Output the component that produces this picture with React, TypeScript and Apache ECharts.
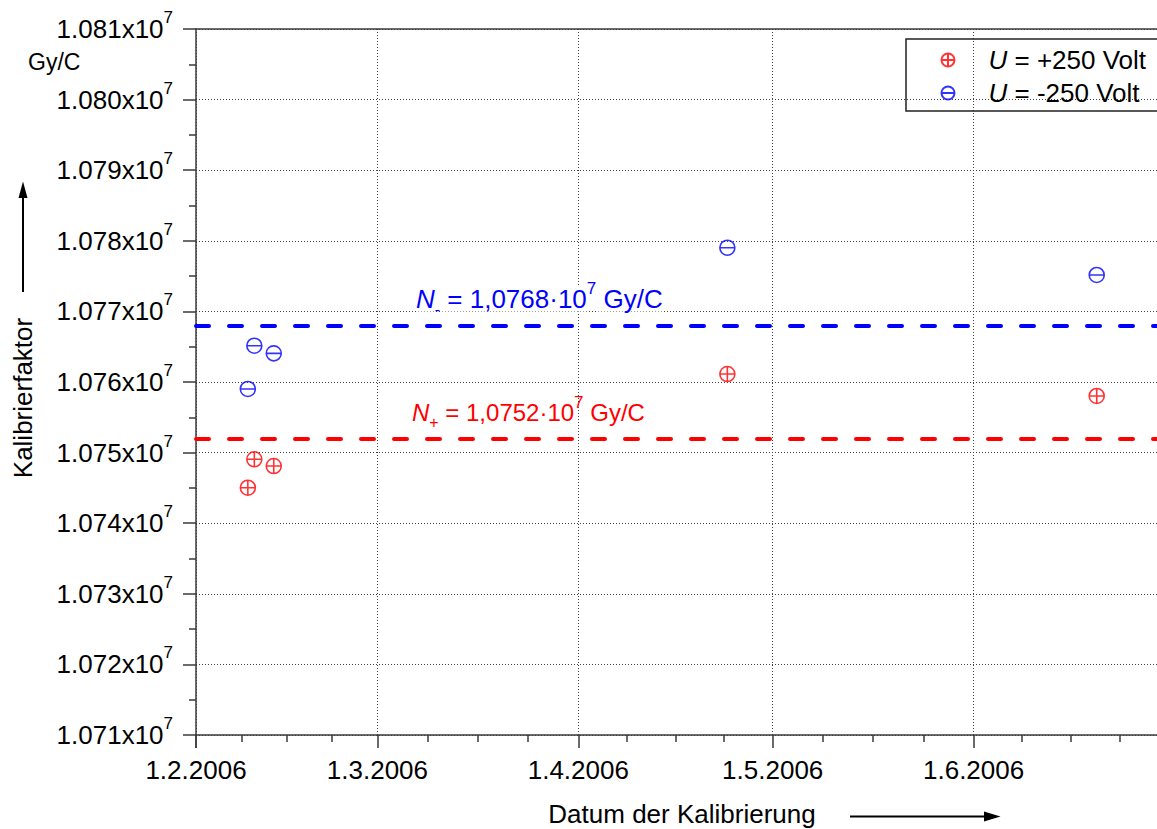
import React, { useEffect, useRef } from 'react';
import * as echarts from 'echarts';

const FONT = "'Liberation Sans', Arial, Helvetica, sans-serif";

// ---- data ----
const measurementDates = ['2006-02-09', '2006-02-10', '2006-02-13', '2006-04-24', '2006-06-20'];
const plusValues = [10745030, 10749050, 10748100, 10761130, 10758020];
const minusValues = [10759010, 10765140, 10764060, 10779020, 10775160];
const seriesNames = ['U = +250 Volt', 'U = -250 Volt'];
const meanPlus = 10752000;
const meanMinus = 10768000;
const xRange = ['2006-02-01', '2006-07-01'];
const yMin = 10710000;
const yMax = 10810000;
const yInterval = 10000;
const yExponent = 7;
const unitLabel = 'Gy/C';
const yTitle = 'Kalibrierfaktor';
const xTitle = 'Datum der Kalibrierung';

const DAY = 24 * 3600 * 1000;
const toTime = (s: string) => {
  const [y, m, d] = s.split('-').map(Number);
  return new Date(y, m - 1, d).getTime();
};
const fmtDate = (v: number) => {
  const d = new Date(v);
  return `${d.getDate()}.${d.getMonth() + 1}.${d.getFullYear()}`;
};
const fmtMean = (v: number) => (v / Math.pow(10, yExponent)).toFixed(4).replace('.', ',');

const PLUS_SYMBOL = 'path://M10,0A10,10,0,1,1,-10,0A10,10,0,1,1,10,0ZM-10,0L10,0M0,-10L0,10';
const MINUS_SYMBOL = 'path://M10,0A10,10,0,1,1,-10,0A10,10,0,1,1,10,0ZM-10,0L10,0';

const RED = '#ff0000';
const BLUE = '#0000ff';
const AXIS = '#3a3a3a';

const rt = (o: any) => ({ fontFamily: FONT, ...o });

export default function App() {
  const ref = useRef<HTMLDivElement>(null);
  useEffect(() => {
    if (!ref.current) return;
    const chart = echarts.init(ref.current, undefined, { renderer: 'svg' });
    const xMin = toTime(xRange[0]);
    const xMax = toTime(xRange[1]);

    const staticGraphic: any[] = [
      {
        type: 'text', x: 28, y: 62,
        style: { text: unitLabel, fontFamily: FONT, fontSize: 23, fill: '#000', align: 'left', verticalAlign: 'middle' },
      },
      {
        type: 'text', x: 23, y: 398, rotation: Math.PI / 2,
        style: { text: yTitle, fontFamily: FONT, fontSize: 26, fill: '#000', align: 'center', verticalAlign: 'middle' },
      },
      { type: 'line', shape: { x1: 23, y1: 292, x2: 23, y2: 195 }, style: { stroke: '#000', lineWidth: 2 } },
      { type: 'polygon', shape: { points: [[23, 181.5], [18.5, 198], [27.5, 198]] }, style: { fill: '#000' } },
      {
        type: 'text', x: 682, y: 814,
        style: { text: xTitle, fontFamily: FONT, fontSize: 26, fill: '#000', align: 'center', verticalAlign: 'middle' },
      },
      { type: 'line', shape: { x1: 850, y1: 816.5, x2: 986, y2: 816.5 }, style: { stroke: '#000', lineWidth: 2 } },
      { type: 'polygon', shape: { points: [[1000.5, 816.5], [984, 811.5], [984, 821.5]] }, style: { fill: '#000' } },
    ];

    const axisLineStyle = { color: AXIS, width: 1.5 };
    const option: any = {
      animation: false,
      textStyle: { fontFamily: FONT },
      grid: { left: 196, width: 972, top: 29, height: 706, containLabel: false, outerBoundsMode: 'none' },
      xAxis: [
        {
          type: 'time', min: xMin, max: xMax, splitNumber: 5,
          minInterval: 28 * DAY, maxInterval: 31 * DAY,
          axisLine: { show: true, onZero: false, lineStyle: axisLineStyle },
          axisTick: { show: true, length: 13, lineStyle: axisLineStyle },
          minorTick: { show: true, splitNumber: 4, length: 7, lineStyle: axisLineStyle },
          splitLine: { show: true, lineStyle: { color: '#444', type: [1, 2], width: 1 } },
          minorSplitLine: { show: false },
          axisLabel: {
            show: true, margin: 22, fontSize: 26, color: '#000', fontFamily: FONT,
            formatter: (v: number) => fmtDate(v), showMinLabel: true, showMaxLabel: false, hideOverlap: false,
          },
        },
        {
          type: 'time', position: 'top', min: xMin, max: xMax,
          axisLine: { show: true, onZero: false, lineStyle: axisLineStyle },
          axisTick: { show: false }, axisLabel: { show: false }, splitLine: { show: false },
        },
      ],
      yAxis: {
        type: 'value', min: yMin, max: yMax, interval: yInterval,
        axisLine: { show: true, lineStyle: axisLineStyle },
        axisTick: { show: true, length: 13, lineStyle: axisLineStyle },
        minorTick: { show: true, splitNumber: 2, length: 7, lineStyle: axisLineStyle },
        splitLine: { show: true, lineStyle: { color: '#444', type: [1, 2], width: 1 } },
        axisLabel: {
          margin: 23,
          formatter: (v: number) => `{m|${(v / Math.pow(10, yExponent)).toFixed(3)}x10}{s|${yExponent}}`,
          rich: {
            m: rt({ fontSize: 26, lineHeight: 40, color: '#000' }),
            s: rt({ fontSize: 17, lineHeight: 17, verticalAlign: 'top', color: '#000' }),
          },
        },
      },
      legend: {
        orient: 'vertical', left: 906, top: 39, padding: [8, 20, 5, 34.5],
        itemGap: 7, itemWidth: 13, itemHeight: 13, selectedMode: false,
        borderColor: '#222', borderWidth: 1.5,
        data: seriesNames,
        formatter: (name: string) => `{g| }{i|U}{t|${name.slice(1)}}`,
        textStyle: {
          fontSize: 26, color: '#000', fontFamily: FONT,
          rich: {
            g: rt({ width: 29, fontSize: 26, color: '#000' }),
            i: rt({ fontStyle: 'italic', fontSize: 26, color: '#000' }),
            t: rt({ fontSize: 26, color: '#000' }),
          },
        },
      },
      series: [
        {
          name: seriesNames[0], type: 'scatter', symbol: PLUS_SYMBOL, symbolSize: 15, z: 4,
          data: measurementDates.map((d, i) => [toTime(d), plusValues[i]]),
          itemStyle: { color: 'rgba(255,255,255,0)', borderColor: RED, borderWidth: 1.6 },
          markLine: {
            silent: true, symbol: ['none', 'none'], label: { show: false },
            lineStyle: { color: RED, type: [13, 20], width: 4, cap: 'round' },
            data: [{ yAxis: meanPlus }],
          },
        },
        {
          name: seriesNames[1], type: 'scatter', symbol: MINUS_SYMBOL, symbolSize: 15, z: 4,
          data: measurementDates.map((d, i) => [toTime(d), minusValues[i]]),
          itemStyle: { color: 'rgba(255,255,255,0)', borderColor: BLUE, borderWidth: 1.6 },
          markLine: {
            silent: true, symbol: ['none', 'none'], label: { show: false },
            lineStyle: { color: BLUE, type: [13, 20], width: 4, cap: 'round' },
            data: [{ yAxis: meanMinus }],
          },
        },
      ],
      graphic: staticGraphic,
    };
    chart.setOption(option);

    const annot = (x: number, yPix: number, mean: number, sign: string, color: string, size: number) => ({
      type: 'text', x, y: yPix, z: 10,
      style: {
        text: `{n|N}{b|${sign}}{t| = ${fmtMean(mean)}·10}{s|${yExponent}}{t| Gy/C}`,
        fill: color, fontFamily: FONT, fontSize: size, align: 'left', verticalAlign: 'middle',
        rich: {
          n: rt({ fontStyle: 'italic', fontSize: size, lineHeight: 37, fill: color, backgroundColor: '#fff' }),
          b: rt({ fontSize: 16, lineHeight: 11, verticalAlign: 'bottom', fill: color }),
          t: rt({ fontSize: size, lineHeight: 37, fill: color, backgroundColor: '#fff' }),
          s: rt({ fontSize: 17, lineHeight: 17, verticalAlign: 'top', fill: color }),
        },
      },
    });
    const yMinusPix = chart.convertToPixel({ yAxisIndex: 0 }, meanMinus) as number;
    const yPlusPix = chart.convertToPixel({ yAxisIndex: 0 }, meanPlus) as number;
    chart.setOption({
      graphic: [
        ...staticGraphic,
        annot(416, yMinusPix - 27, meanMinus, '-', BLUE, 26),
        annot(412, yPlusPix - 26, meanPlus, '+', RED, 24),
      ],
    });

    return () => chart.dispose();
  }, []);
  return <div ref={ref} style={{ width: 1157, height: 829, position: 'absolute', left: 0, top: 0 }} />;
}
